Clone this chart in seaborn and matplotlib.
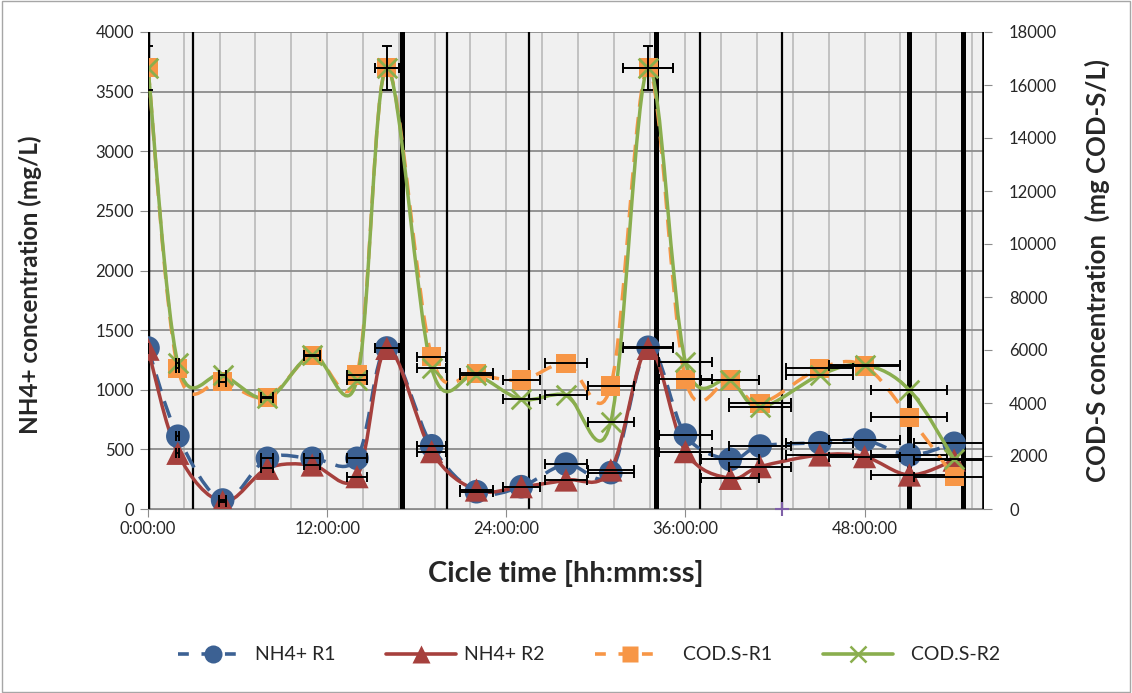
import numpy as np
import pandas as pd
import matplotlib
matplotlib.use("Agg")
import matplotlib.pyplot as plt
import seaborn as sns
from matplotlib.path import Path
from matplotlib.patches import PathPatch, Rectangle
from matplotlib.lines import Line2D
from matplotlib.ticker import MultipleLocator, FixedLocator

# ---------------- data ----------------
time_h = [0, 2, 5, 8, 11, 14, 16, 19, 22, 25, 28, 31, 33.5, 36, 39, 41, 45, 48, 51, 54]
nh4_r1 = [1350, 610, 75, 425, 425, 425, 1350, 530, 145, 187, 377, 305, 1356, 620, 416, 528, 556, 578, 453, 551]
nh4_r2 = [1340, 467, 61, 341, 369, 271, 1347, 481, 159, 187, 243, 327, 1347, 481, 257, 355, 453, 439, 285, 410]
cod_r1 = [16650, 5309, 4804, 4215, 5785, 5057, 16650, 5747, 5120, 4868, 5498, 4641, 16650, 4894, 4868, 3988, 5309, 5396, 3460, 1219]
cod_r2 = [16650, 5498, 5057, 4177, 5811, 4868, 16650, 5309, 5057, 4139, 4302, 3294, 16650, 5558, 4868, 3838, 5057, 5434, 4490, 1875]
x_err_fraction = 0.05            # horizontal error bars: 5 % of time
cod_peak_yerr = 830              # vertical error bars on COD peaks
phase_lines_h = [0, 3, 17, 20, 25.5, 34, 37, 42.5, 51, 54.6, 56]
phase_width = [2.5, 1.6, 3.6, 1.6, 1.6, 3.6, 1.6, 1.6, 3.6, 3.6, 2.6]
stray_x = [42.5]
stray_y = [0]
x_ticks_h = [0, 12, 24, 36, 48]
x_tick_labels = ["0:00:00", "12:00:00", "24:00:00", "36:00:00", "48:00:00"]
series_names = ["NH4+ R1", "NH4+ R2", "  COD.S-R1", "  COD.S-R2"]

# ---------------- style ----------------
sns.set_style("white")
plt.rcParams['font.family'] = ['Lato', 'DejaVu Sans']

C_BLUE = "#3C6193"
C_RED = "#A6403D"
C_ORANGE = "#F79646"
C_GREEN = "#8AAE4E"

fig = plt.figure(figsize=(11.32, 6.93), dpi=100)
ax = fig.add_axes([148/1132, 1-509/693, (984-148)/1132, (509-32)/693])
ax2 = ax.twinx()

ax.set_facecolor("#F0F0F0")
ax.set_xlim(0, 56)
ax.set_ylim(0, 4000)
ax2.set_ylim(0, 18000)
ax2.set_xlim(0, 56)
ax.set_zorder(1)
ax2.set_zorder(2)
ax2.patch.set_visible(False)

# grid
ax.xaxis.set_major_locator(FixedLocator(x_ticks_h))
ax.set_xticklabels(x_tick_labels)
ax.xaxis.set_minor_locator(MultipleLocator(2.4))
ax.yaxis.set_major_locator(MultipleLocator(500))
ax2.yaxis.set_major_locator(MultipleLocator(2000))
ax.grid(which='major', axis='y', color="#8C8C8C", lw=1.3, zorder=0)
ax.grid(which='both', axis='x', color="#BEBEBE", lw=1.3, zorder=0)
ax.set_axisbelow(True)

for a in (ax, ax2):
    for s in a.spines.values():
        s.set_visible(False)
ax.spines['bottom'].set_visible(True)
ax.spines['bottom'].set_color("#8C8C8C")

ax.tick_params(axis='x', which='major', length=6, color="#8C8C8C", labelsize=12, pad=3, direction='out', bottom=True)
ax.tick_params(axis='x', which='minor', length=0)
ax.tick_params(axis='y', length=6, color="#8C8C8C", labelsize=12, pad=4, left=True)
ax2.tick_params(axis='y', length=6, color="#8C8C8C", labelsize=12, pad=12, right=True)

# phase lines
for xv, w in zip(phase_lines_h, phase_width):
    ax.axvline(xv, color="black", lw=w, zorder=1.5)


def smooth_path(xs, ys):
    pts = np.column_stack([xs, ys]).astype(float)
    n = len(pts)
    verts = [pts[0]]
    codes = [Path.MOVETO]
    for i in range(n - 1):
        p0 = pts[i - 1] if i > 0 else pts[i]
        p1 = pts[i]
        p2 = pts[i + 1]
        p3 = pts[i + 2] if i + 2 < n else pts[i + 1]
        verts += [p1 + (p2 - p0) / 6.0, p2 - (p3 - p1) / 6.0, p2]
        codes += [Path.CURVE4] * 3
    return Path(verts, codes)


t = np.array(time_h, dtype=float)
df = pd.DataFrame({"t": t, "nh4_r1": nh4_r1, "nh4_r2": nh4_r2,
                   "cod_r1": cod_r1, "cod_r2": cod_r2})

DASH = (0, (5, 3))
specs = [
    (ax, "nh4_r1", C_BLUE, DASH, 'o', 290, None),
    (ax, "nh4_r2", C_RED, '-', '^', 280, None),
    (ax2, "cod_r1", C_ORANGE, DASH, 's', 190, None),
    (ax2, "cod_r2", C_GREEN, '-', 'x', 200, 2.0),
]
for a, col, color, ls, mk, size, mlw in specs:
    patch = PathPatch(smooth_path(df["t"], df[col]), facecolor='none', edgecolor=color,
                      lw=2.5, linestyle=ls, zorder=3, capstyle='butt')
    a.add_patch(patch)
    if mk == 'x':
        sns.scatterplot(data=df, x="t", y=col, ax=a, marker='x', s=size, color=color,
                        linewidth=mlw, zorder=4, legend=False)
    else:
        sns.scatterplot(data=df, x="t", y=col, ax=a, marker=mk, s=size, color=color,
                        edgecolor='none', linewidth=0, zorder=4, legend=False)
    a.errorbar(df["t"], df[col], xerr=df["t"] * x_err_fraction, fmt='none', ecolor='black',
               elinewidth=1.4, capsize=3.5, capthick=1.4, zorder=5)

peaks = df[df["cod_r1"] > 10000]
ax2.errorbar(peaks["t"], peaks["cod_r1"], yerr=cod_peak_yerr, fmt='none', ecolor='black',
             elinewidth=1.4, capsize=3.5, capthick=1.4, zorder=5)

ax.scatter(stray_x, stray_y, marker='+', s=90, color="#7F60A8", linewidths=1.5, zorder=6, clip_on=False)

ax.set_xlabel("Cicle time [hh:mm:ss]", fontsize=21, fontweight='bold', labelpad=16)
ax.set_ylabel("NH4+ concentration (mg/L)", fontsize=17.5, fontweight='bold')
ax.yaxis.set_label_coords(-0.127, 0.47)
ax2.set_ylabel("COD-S concentration  (mg COD-S/L)", fontsize=18.5, fontweight='bold', labelpad=20)

handles = [
    Line2D([], [], color=C_BLUE, ls=(0, (3, 3.5)), lw=2.6, marker='o', ms=13, mec='none'),
    Line2D([], [], color=C_RED, ls='-', lw=2.6, marker='^', ms=13, mec='none'),
    Line2D([], [], color=C_ORANGE, ls=(0, (3, 3.5)), lw=2.6, marker='s', ms=11, mec='none'),
    Line2D([], [], color=C_GREEN, ls='-', lw=2.6, marker='x', ms=12, mew=1.8),
]
fig.legend(handles, series_names, loc='center', bbox_to_anchor=(0.52, 0.055), ncol=4,
           frameon=False, handlelength=3.6, columnspacing=2.6, fontsize=14, handletextpad=0.4)

fig.add_artist(Rectangle((0.0015, 0.002), 0.997, 0.996, transform=fig.transFigure,
                         fill=False, edgecolor="#A6A6A6", lw=1))

fig.savefig("out.png", dpi=100)
